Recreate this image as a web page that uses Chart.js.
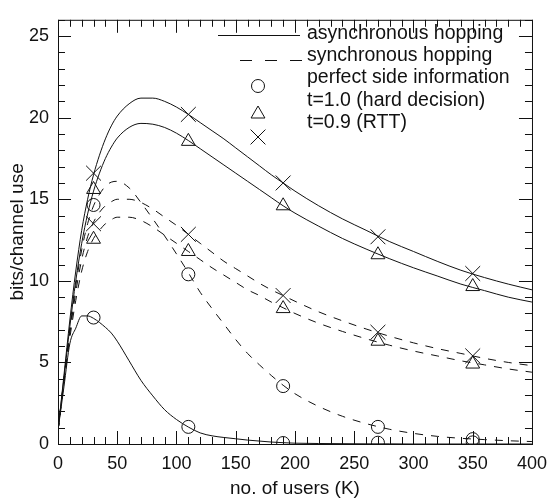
<!DOCTYPE html>
<html>
<head>
<meta charset="utf-8">
<title>bits/channel use vs. no. of users</title>
<script src="https://cdn.jsdelivr.net/npm/chart.js@4.4.1/dist/chart.umd.min.js"></script>
<style>
  html, body { margin: 0; padding: 0; background: #fff; }
  #wrap { width: 556px; height: 504px; }
</style>
</head>
<body>
<div id="wrap"><canvas id="capacityChart" width="556" height="504"></canvas></div>
<script>
/* Throughput per channel use vs. number of users, async vs. sync hopping */

// x grid the curves are sampled on (no. of users, K)
const userGrid = [0, 5, 10, 15, 20, 25, 30, 35, 40, 45, 50,
  60, 70, 80, 90, 100, 110, 120, 130, 140, 150, 160, 170, 180, 190, 200,
  220, 240, 260, 280, 300, 320, 340, 360, 380, 400];

// asynchronous hopping (solid)
const asyncRtt = [0.8, 4.2, 7.6, 10.6, 13.1, 15.0, 16.5, 17.7, 18.7, 19.5, 20.1,
  20.85, 21.2, 21.2, 21.0, 20.65, 20.2, 19.7, 19.2, 18.7, 18.15, 17.6, 17.05, 16.5, 16.0, 15.5,
  14.6, 13.8, 13.1, 12.4, 11.8, 11.2, 10.65, 10.2, 9.8, 9.45];
const asyncHard = [0.8, 4.0, 7.2, 10.0, 12.3, 14.1, 15.5, 16.6, 17.5, 18.2, 18.75,
  19.4, 19.65, 19.6, 19.4, 19.05, 18.6, 18.1, 17.6, 17.1, 16.6, 16.1, 15.6, 15.1, 14.6, 14.15,
  13.35, 12.6, 11.95, 11.35, 10.8, 10.3, 9.8, 9.4, 9.0, 8.7];
const asyncPerfect = [0.84, 3.5, 6.15, 7.1, 7.85, 7.85, 7.7, 7.45, 7.15, 6.8, 6.3,
  5.1, 3.9, 2.95, 2.1, 1.5, 1.04, 0.68, 0.5, 0.4, 0.32, 0.24, 0.18, 0.12, 0.08, 0.05,
  0.03, 0.02, 0.01, 0.01, 0, 0, 0, 0, 0, 0];

// synchronous hopping (dashed)
const syncPerfect = [0.8, 4.0, 7.0, 9.7, 11.9, 13.5, 14.6, 15.3, 15.8, 16.05, 16.1,
  15.7, 14.8, 13.8, 12.75, 11.65, 10.5, 9.3, 8.3, 7.35, 6.4, 5.55, 4.85, 4.2, 3.6, 3.08,
  2.3, 1.7, 1.25, 0.9, 0.65, 0.47, 0.35, 0.27, 0.2, 0.15];
const syncRtt = [0.8, 3.9, 6.8, 9.3, 11.3, 12.7, 13.6, 14.2, 14.6, 14.85, 15.0,
  15.0, 14.8, 14.4, 13.9, 13.4, 12.85, 12.3, 11.75, 11.2, 10.75, 10.3, 9.85, 9.45, 9.1, 8.75,
  8.1, 7.55, 7.05, 6.6, 6.2, 5.85, 5.55, 5.25, 5.0, 4.8];
const syncHard = [0.8, 3.8, 6.5, 8.8, 10.6, 11.8, 12.6, 13.1, 13.5, 13.75, 13.9,
  13.9, 13.7, 13.3, 12.8, 12.3, 11.8, 11.3, 10.8, 10.35, 9.9, 9.45, 9.1, 8.7, 8.35, 8.0,
  7.4, 6.9, 6.45, 6.05, 5.7, 5.4, 5.1, 4.85, 4.6, 4.4];

// simulated points
const markerUsers = [30, 110, 190, 270, 350];
const asyncRttMarks = [16.6, 20.2, 16.0, 12.7, 10.45];
const asyncHardMarks = [15.6, 18.55, 14.6, 11.6, 9.65];
const asyncPerfectMarks = [7.75, 1.05, 0.06, 0.08, 0.1];
const syncPerfectMarks = [14.65, 10.4, 3.55, 1.05, 0.3];
const syncRttMarks = [13.5, 12.85, 9.1, 6.85, 5.4];
const syncHardMarks = [12.55, 11.8, 8.3, 6.3, 4.9];

const xTickValues = [0, 50, 100, 150, 200, 250, 300, 350, 400];
const yTickValues = [0, 5, 10, 15, 20, 25];
const legendLabels = ["asynchronous hopping", "synchronous hopping", "perfect side information",
  "t=1.0 (hard decision)", "t=0.9 (RTT)"];

const INK = "#111";
const FONT = '"Liberation Sans", Arial, Helvetica, sans-serif';
const DASH = [8, 8];

const pts = (xs, ys) => xs.map((x, i) => ({ x, y: ys[i] }));

function curve(ys, dashed) {
  return {
    data: pts(userGrid, ys), showLine: true, pointRadius: 0, borderColor: INK,
    borderWidth: 1, borderDash: dashed ? DASH : [], cubicInterpolationMode: "monotone", order: 2
  };
}

function marks(ys, style, r) {
  return {
    data: pts(markerUsers, ys), showLine: false, pointStyle: style, pointRadius: r,
    pointBorderWidth: 1, borderColor: INK, backgroundColor: "rgba(0,0,0,0)", order: 1
  };
}

// inward ticks on all four sides plus the box
const frameTicks = {
  id: "frameTicks",
  afterDatasetsDraw(chart) {
    const { ctx, chartArea: a, scales: { x, y } } = chart;
    ctx.save();
    ctx.strokeStyle = INK;
    ctx.lineWidth = 1;
    ctx.strokeRect(a.left + 0.5, a.top + 0.5, a.right - a.left, a.bottom - a.top);
    ctx.beginPath();
    for (let v = x.min; v <= x.max; v += 10) {
      const px = Math.round(x.getPixelForValue(v)) + 0.5;
      const len = v % 50 === 0 ? 13 : 7;
      ctx.moveTo(px, a.bottom); ctx.lineTo(px, a.bottom - len);
      ctx.moveTo(px, a.top); ctx.lineTo(px, a.top + len);
    }
    for (let v = y.min; v <= y.max; v += 1) {
      const py = Math.round(y.getPixelForValue(v)) + 0.5;
      const len = v % 5 === 0 ? 13 : 7;
      ctx.moveTo(a.left, py); ctx.lineTo(a.left + len, py);
      ctx.moveTo(a.right, py); ctx.lineTo(a.right - len, py);
    }
    ctx.stroke();
    ctx.restore();
  }
};

// legend box in the upper right corner of the plot
const insetLegend = {
  id: "insetLegend",
  afterDraw(chart) {
    const ctx = chart.ctx;
    ctx.save();
    ctx.fillStyle = INK;
    ctx.strokeStyle = INK;
    ctx.lineWidth = 1;
    ctx.font = "19.5px " + FONT;
    ctx.textBaseline = "middle";
    const rows = [34, 56, 78, 101, 123];
    legendLabels.forEach((t, i) => ctx.fillText(t, 307, rows[i]));

    ctx.beginPath(); ctx.moveTo(218, 35.5); ctx.lineTo(300, 35.5); ctx.stroke();
    ctx.setLineDash([12, 13]);
    ctx.beginPath(); ctx.moveTo(240, 60.5); ctx.lineTo(302, 60.5); ctx.stroke();
    ctx.setLineDash([]);

    // hollow markers, same look as the plotted points
    ctx.fillStyle = "rgba(0,0,0,0)";
    const h = Chart.helpers;
    h.drawPoint(ctx, { pointStyle: "circle", radius: 6.5, rotation: 0, borderWidth: 1 }, 258, 86);
    h.drawPoint(ctx, { pointStyle: "triangle", radius: 8, rotation: 0, borderWidth: 1 }, 258, 114);
    h.drawPoint(ctx, { pointStyle: "crossRot", radius: 10.5, rotation: 0, borderWidth: 1 }, 258, 137);
    ctx.restore();
  }
};

new Chart(document.getElementById("capacityChart"), {
  type: "scatter",
  data: {
    datasets: [
      curve(asyncRtt, false), curve(asyncHard, false), curve(asyncPerfect, false),
      curve(syncPerfect, true), curve(syncRtt, true), curve(syncHard, true),
      marks(asyncRttMarks, "crossRot", 10.5), marks(asyncHardMarks, "triangle", 8),
      marks(asyncPerfectMarks, "circle", 6.5),
      marks(syncPerfectMarks, "circle", 6.5), marks(syncRttMarks, "crossRot", 10.5),
      marks(syncHardMarks, "triangle", 8)
    ]
  },
  options: {
    responsive: false,
    animation: false,
    layout: { padding: { left: 0, right: 19, top: 12, bottom: 0 } },
    plugins: { legend: { display: false }, tooltip: { enabled: false } },
    scales: {
      x: {
        type: "linear", min: 0, max: 400,
        grid: { display: false, drawTicks: false }, border: { display: false },
        afterBuildTicks: s => { s.ticks = xTickValues.map(value => ({ value })); },
        afterFit: s => { s.height = 60; },
        ticks: { color: INK, padding: 9, maxRotation: 0, font: { family: FONT, size: 18 } },
        title: { display: true, text: "no. of users (K)", color: INK, padding: { top: 0, bottom: 4 },
          font: { family: FONT, size: 19 } }
      },
      y: {
        type: "linear", min: 0, max: 26,
        grid: { display: false, drawTicks: false }, border: { display: false },
        afterBuildTicks: s => { s.ticks = yTickValues.map(value => ({ value })); },
        afterFit: s => { s.width = 58; },
        ticks: { color: INK, padding: 9, font: { family: FONT, size: 18 } },
        title: { display: true, text: "bits/channel use", color: INK, padding: { top: 6, bottom: 0 },
          font: { family: FONT, size: 19 } }
      }
    }
  },
  plugins: [frameTicks, insetLegend]
});
</script>
</body>
</html>
